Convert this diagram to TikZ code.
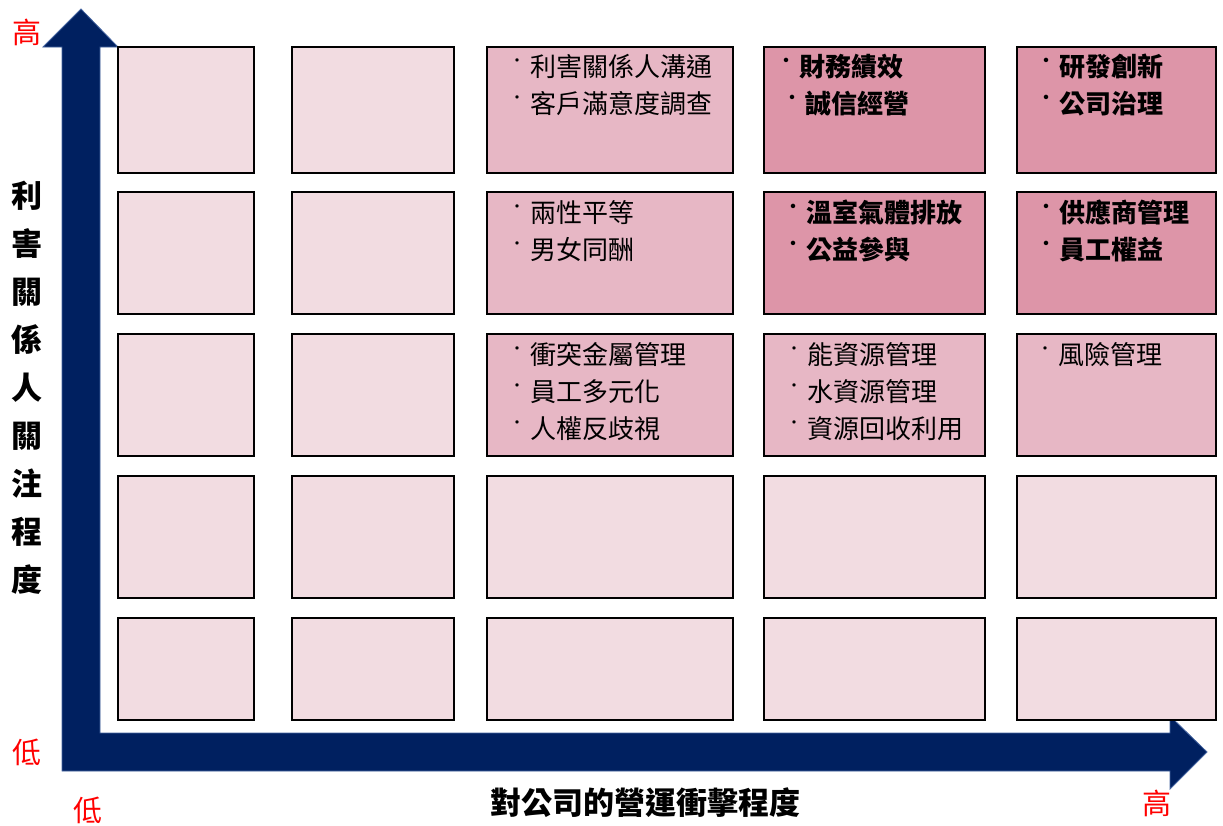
\documentclass[tikz,border=0pt]{standalone}
\usepackage{fontspec}
\setmainfont{Noto Sans CJK TC}
\definecolor{cellfill0}{RGB}{242,220,225}
\definecolor{cellfill1}{RGB}{231,183,197}
\definecolor{cellfill2}{RGB}{221,149,168}
\definecolor{axisnavy}{RGB}{0,32,96}
\definecolor{axisedge}{RGB}{68,100,160}
\newcommand{\bl}{\makebox[0pt][c]{\raisebox{10pt}{\fontsize{16}{16}\selectfont ·}}\hspace{13.5pt}}
\tikzset{
  cell/.style={draw=black, line width=2.5pt, inner sep=0pt},
  item/.style={anchor=base west, inner sep=0pt, font=\fontsize{26}{26}\selectfont},
  bitem/.style={item, font=\fontsize{26}{26}\selectfont\bfseries},
  redlbl/.style={text=red, inner sep=0pt, font=\fontsize{29}{29}\selectfont},
  axislbl/.style={inner sep=0pt, font=\fontsize{31}{48}\selectfont\bfseries},
}
\begin{document}
\begin{tikzpicture}[x=1pt,y=-1pt]
\useasboundingbox (0,0) rectangle (1223,825);
% axes arrow
\coordinate (vl) at (43,47); \coordinate (vt) at (81,9); \coordinate (vr) at (118,47);
\coordinate (ht) at (1170,716); \coordinate (hp) at (1207,752); \coordinate (hb) at (1170,789);
\fill[axisnavy, draw=axisedge, line width=0.8pt]
  (vl) -- (vt) -- (vr) -- (100,47) -- (100,733) -- (1170,733) -- (ht) -- (hp) -- (hb)
  -- (1170,771) -- (62,771) -- (62,47) -- cycle;
% cells
\foreach \r/\ya/\yb in {1/47/173,2/192/314,3/334/456,4/476/598,5/618/720}{
  \foreach \c/\xa/\xb in {1/118/254,2/292/454,3/487/733,4/764/985,5/1017/1216}{
    \pgfmathtruncatemacro\t{(\r<=2)*((\c==3)*1+(\c>=4)*2)+(\r==3)*(\c>=3)}
    \node[cell, fill=cellfill\t, minimum width={(\xb-\xa)*1pt}, minimum height={(\yb-\ya)*1pt}]
      (c\r\c) at ({(\xa+\xb)/2},{(\ya+\yb)/2}) {};
  }
}
% column 3
\node[item] (i131) at (517,76) {\bl 利害關係人溝通};
\node[item] (i132) at (517,113) {\bl 客戶滿意度調查};
\node[item] (i231) at (517,222) {\bl 兩性平等};
\node[item] (i232) at (517,259) {\bl 男女同酬};
\node[item] (i331) at (517,364) {\bl 衝突金屬管理};
\node[item] (i332) at (517,401) {\bl 員工多元化};
\node[item] (i333) at (517,438) {\bl 人權反歧視};
% column 4
\node[bitem] (i141) at (786,76) {\bl 財務績效};
\node[bitem] (i142) at (792,113) {\bl 誠信經營};
\node[bitem] (i241) at (793,222) {\bl 溫室氣體排放};
\node[bitem] (i242) at (793,259) {\bl 公益參與};
\node[item] (i341) at (794,364) {\bl 能資源管理};
\node[item] (i342) at (794,401) {\bl 水資源管理};
\node[item] (i343) at (794,438) {\bl 資源回收利用};
% column 5
\node[bitem] (i151) at (1046,76) {\bl 研發創新};
\node[bitem] (i152) at (1046,113) {\bl 公司治理};
\node[bitem] (i251) at (1046,222) {\bl 供應商管理};
\node[bitem] (i252) at (1046,259) {\bl 員工權益};
\node[item] (i351) at (1045,364) {\bl 風險管理};
% axis labels
\node[axislbl, align=center] (ylab) at (27,388) {利\\害\\關\\係\\人\\關\\注\\程\\度};
\node[axislbl] (xlab) at (645,803) {對公司的營運衝擊程度};
\node[redlbl] (yhi) at (27,32) {高};
\node[redlbl] (ylo) at (27,752) {低};
\node[redlbl] (xlo) at (88,810) {低};
\node[redlbl] (xhi) at (1157,803) {高};
\end{tikzpicture}
\end{document}
